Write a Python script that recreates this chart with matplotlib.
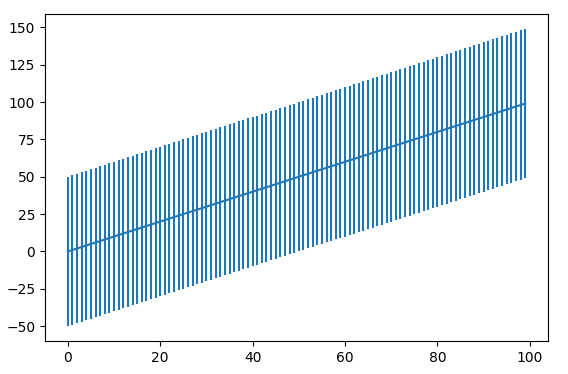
import matplotlib
matplotlib.use('Agg')
import matplotlib.pyplot as plt

# values: one point per integer x, y equal to x, error 50
x_vals = [
    0, 1, 2, 3, 4, 5, 6, 7, 8, 9, 10, 11, 12, 13, 14, 15, 16, 17, 18, 19,
    20, 21, 22, 23, 24, 25, 26, 27, 28, 29, 30, 31, 32, 33, 34, 35, 36, 37, 38, 39,
    40, 41, 42, 43, 44, 45, 46, 47, 48, 49, 50, 51, 52, 53, 54, 55, 56, 57, 58, 59,
    60, 61, 62, 63, 64, 65, 66, 67, 68, 69, 70, 71, 72, 73, 74, 75, 76, 77, 78, 79,
    80, 81, 82, 83, 84, 85, 86, 87, 88, 89, 90, 91, 92, 93, 94, 95, 96, 97, 98, 99,
]
y_vals = [
    0, 1, 2, 3, 4, 5, 6, 7, 8, 9, 10, 11, 12, 13, 14, 15, 16, 17, 18, 19,
    20, 21, 22, 23, 24, 25, 26, 27, 28, 29, 30, 31, 32, 33, 34, 35, 36, 37, 38, 39,
    40, 41, 42, 43, 44, 45, 46, 47, 48, 49, 50, 51, 52, 53, 54, 55, 56, 57, 58, 59,
    60, 61, 62, 63, 64, 65, 66, 67, 68, 69, 70, 71, 72, 73, 74, 75, 76, 77, 78, 79,
    80, 81, 82, 83, 84, 85, 86, 87, 88, 89, 90, 91, 92, 93, 94, 95, 96, 97, 98, 99,
]
y_err = 50

fig = plt.figure(figsize=(5.68, 3.74), dpi=100)
ax = fig.add_axes([45 / 568, 1 - 341 / 374, 503 / 568, 327 / 374])

ax.errorbar(x_vals, y_vals, yerr=y_err)

fig.savefig('out.png', dpi=100)
